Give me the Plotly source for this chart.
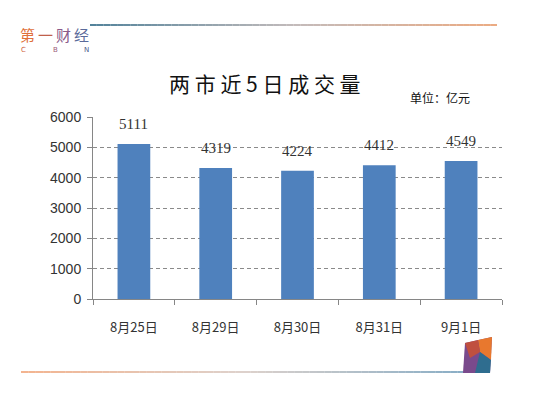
import plotly.graph_objects as go

categories = ["8月25日", "8月29日", "8月30日", "8月31日", "9月1日"]
volumes = [5111, 4319, 4224, 4412, 4549]
y_ticks = [0, 1000, 2000, 3000, 4000, 5000, 6000]

W, H = 538, 396
L, R, T, B = 93, 502, 117, 299

def px(x):
    return (x - L) / (R - L)

def py(y):
    return (B - y) / (B - T)

def lerp(c1, c2, t):
    return "rgb(%d,%d,%d)" % tuple(round(a + (b - a) * t) for a, b in zip(c1, c2))

fig = go.Figure()
fig.add_trace(go.Bar(
    x=categories, y=volumes, width=0.4,
    marker=dict(color="#4F81BD", line=dict(width=0)),
))

shapes = []
# header gradient line
n = 60
x0, x1, yh = 90, 497, 25
for i in range(n):
    t = i / (n - 1)
    if t < 0.5:
        c = lerp((40, 100, 130), (180, 170, 170), t / 0.5)
    else:
        c = lerp((180, 170, 170), (230, 150, 100), (t - 0.5) / 0.5)
    xa = x0 + (x1 - x0) * i / n
    xb = x0 + (x1 - x0) * (i + 1) / n
    shapes.append(dict(type="line", xref="paper", yref="paper",
                       x0=px(xa), x1=px(xb), y0=py(yh), y1=py(yh),
                       line=dict(color=c, width=1.6)))
# footer gradient line
x0, x1, yf = 21, 465, 372
for i in range(n):
    t = i / (n - 1)
    if t < 0.5:
        c = lerp((235, 130, 70), (200, 180, 170), t / 0.5)
    else:
        c = lerp((200, 180, 170), (60, 120, 160), (t - 0.5) / 0.5)
    xa = x0 + (x1 - x0) * i / n
    xb = x0 + (x1 - x0) * (i + 1) / n
    shapes.append(dict(type="line", xref="paper", yref="paper",
                       x0=px(xa), x1=px(xb), y0=py(yf), y1=py(yf),
                       line=dict(color=c, width=1.2)))

def poly(pts, color):
    d = "M " + " L ".join("%f,%f" % (px(a), py(b)) for a, b in pts) + " Z"
    return dict(type="path", xref="paper", yref="paper", path=d,
                fillcolor=color, line=dict(width=0))

# decorative corner block
shapes.append(poly([(465, 343), (492, 337), (490, 373), (463, 373)], "#7a4a8c"))
shapes.append(poly([(478, 340), (492, 337), (491, 360), (480, 352)], "#e8782e"))
shapes.append(poly([(465, 343), (478, 340), (480, 352), (470, 358)], "#c0503f"))
shapes.append(poly([(480, 352), (491, 360), (490, 373), (475, 373)], "#2f6d8f"))

def ann(text, x, y, family, size, color, xanchor="center"):
    return dict(text=text, x=px(x), y=py(y), xref="paper", yref="paper",
                showarrow=False, font=dict(family=family, size=size, color=color),
                xanchor=xanchor, yanchor="middle")

annotations = [
    ann("两 市 近 5 日 成 交 量", 265, 83, "Noto Sans CJK SC", 21, "#111111"),
    ann("单位：亿元", 440, 98, "Noto Sans CJK SC", 12, "#111111"),
    ann("第", 27, 34, "Noto Sans CJK SC", 15, "#e0703a"),
    ann("一", 45, 34, "Noto Sans CJK SC", 15, "#c0604a"),
    ann("财", 63, 34, "Noto Sans CJK SC", 15, "#8a5a8a"),
    ann("经", 81, 34, "Noto Sans CJK SC", 15, "#5a6a9a"),
    ann("C", 23, 50, "DejaVu Sans", 7, "#d0603a"),
    ann("B", 55, 50, "DejaVu Sans", 7, "#9a5a7a"),
    ann("N", 86, 50, "DejaVu Sans", 7, "#4a5a8a"),
]
# data labels above bars
for cat, v in zip(categories, volumes):
    annotations.append(dict(text=str(v), x=cat, y=v, xref="x", yref="y",
                            showarrow=False, yanchor="bottom", yshift=10,
                            font=dict(family="Liberation Serif", size=15, color="#333333")))

fig.update_layout(
    width=W, height=H,
    margin=dict(l=L, r=W - R, t=T, b=H - B),
    paper_bgcolor="white", plot_bgcolor="white",
    showlegend=False,
    shapes=shapes, annotations=annotations,
)
fig.update_xaxes(
    type="category", tickson="boundaries", ticks="outside", ticklen=5,
    tickcolor="#868686", showline=True, linecolor="#868686", linewidth=1,
    showgrid=False, tickfont=dict(family="Noto Sans CJK SC", size=13, color="#333333"),
    ticklabelstandoff=16,
)
fig.update_yaxes(
    range=[0, 6000], tickvals=y_ticks, ticks="outside", ticklen=5,
    tickcolor="#868686", showline=True, linecolor="#868686", linewidth=1,
    showgrid=True, gridcolor="#8a8a8a", griddash="4px,3px", gridwidth=1,
    zeroline=False, tickfont=dict(family="Liberation Sans", size=14, color="#333333"),
    ticklabelstandoff=3,
)

fig.write_html("out.html")
